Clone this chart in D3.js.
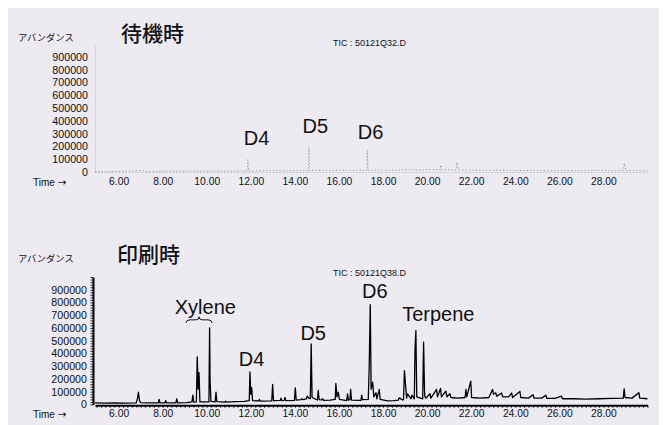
<!DOCTYPE html>
<html><head><meta charset="utf-8">
<script src="https://cdn.jsdelivr.net/npm/d3@7"></script>
<style>
html,body{margin:0;padding:0;background:#fff;}
svg{display:block;}
text{font-family:"Liberation Sans",Arial,sans-serif;fill:#111;}
.jp{font-family:"Noto Sans CJK JP",sans-serif;}
</style></head>
<body>
<svg id="c" width="665" height="425"></svg>
<script>
// ---------- data ----------
const xTickLabels = [6, 8, 10, 12, 14, 16, 18, 20, 22, 24, 26, 28];
const yTickLabels = [0, 100000, 200000, 300000, 400000, 500000, 600000, 700000, 800000, 900000];

// 待機時 (TIC: 50121Q32.D)
const topTime  = [4.93, 5.5, 6.0, 6.5, 7.0, 7.3, 8.0, 8.6, 9.0, 9.6, 10.0, 10.6, 11.0, 11.5, 11.84, 11.87, 11.9, 12.5, 13.0, 13.6, 14.0, 14.6, 14.64, 14.68, 15.2, 15.6, 16.1, 16.6, 17.0, 17.26, 17.29, 17.32, 17.8, 18.4, 19.0, 19.6, 20.2, 20.58, 20.62, 20.66, 21.0, 21.3, 21.36, 21.42, 22.0, 22.6, 23.2, 24.0, 24.8, 25.5, 26.2, 27.0, 27.8, 28.5, 28.9, 28.95, 29.0, 29.5, 30.0];
const topAbund = [3000, 5000, 4000, 8000, 12000, 5000, 6000, 9000, 5000, 10000, 6000, 9000, 7000, 10000, 6000, 100000, 7000, 9000, 12000, 8000, 11000, 10000, 195000, 11000, 14000, 10000, 16000, 11000, 15000, 12000, 170000, 12000, 16000, 12000, 18000, 15000, 20000, 16000, 55000, 16000, 18000, 15000, 75000, 14000, 16000, 12000, 14000, 10000, 12000, 9000, 11000, 10000, 12000, 10000, 12000, 70000, 11000, 10000, 9000];

// 印刷時 (TIC: 50121Q38.D)
const botTime  = [4.93, 5.4, 5.8, 6.3, 6.8, 6.86, 6.9, 6.95, 7.0, 7.4, 7.8, 7.84, 7.88, 8.1, 8.14, 8.18, 8.6, 8.64, 8.68, 9.1, 9.33, 9.37, 9.41, 9.53, 9.57, 9.61, 9.65, 9.69, 10.1, 10.13, 10.15, 10.19, 10.38, 10.42, 10.46, 10.82, 10.86, 10.9, 11.3, 11.7, 11.93, 11.96, 12.0, 12.04, 12.08, 12.36, 12.39, 12.43, 12.95, 12.99, 13.03, 13.34, 13.37, 13.41, 13.52, 13.55, 13.59, 13.98, 14.02, 14.06, 14.28, 14.31, 14.35, 14.52, 14.56, 14.62, 14.70, 14.74, 14.78, 15.02, 15.06, 15.1, 15.22, 15.26, 15.3, 15.6, 15.83, 15.86, 15.91, 15.97, 16.02, 16.35, 16.39, 16.43, 16.5, 16.53, 16.57, 17.0, 17.03, 17.07, 17.33, 17.37, 17.42, 17.46, 17.53, 17.58, 17.68, 17.72, 17.83, 17.87, 18.2, 18.5, 18.69, 18.73, 18.89, 18.93, 18.97, 19.07, 19.11, 19.27, 19.31, 19.42, 19.45, 19.49, 19.53, 19.8, 19.84, 19.88, 19.9, 19.95, 20.13, 20.17, 20.43, 20.47, 20.61, 20.65, 20.85, 20.9, 21.03, 21.08, 21.4, 21.72, 21.76, 21.8, 21.98, 22.02, 22.4, 22.8, 22.97, 23.01, 23.11, 23.16, 23.38, 23.43, 23.7, 23.83, 23.88, 24.21, 24.25, 24.6, 24.81, 24.85, 25.2, 25.39, 25.43, 25.8, 26.1, 26.14, 26.6, 27.2, 27.8, 28.4, 28.9, 28.94, 28.98, 29.3, 29.61, 29.65, 30.0];
const botAbund = [12000, 10000, 12000, 10000, 12000, 50000, 96000, 30000, 14000, 12000, 12000, 40000, 12000, 12000, 30000, 12000, 12000, 45000, 13000, 15000, 20000, 73000, 18000, 20000, 374000, 120000, 250000, 20000, 20000, 601000, 200000, 25000, 20000, 96000, 22000, 18000, 26000, 18000, 22000, 25000, 30000, 256000, 80000, 133000, 30000, 28000, 40000, 26000, 28000, 157000, 30000, 33000, 50000, 30000, 32000, 55000, 30000, 32000, 131000, 35000, 38000, 45000, 38000, 45000, 65000, 50000, 45000, 476000, 55000, 35000, 110000, 38000, 36000, 45000, 32000, 35000, 40000, 165000, 60000, 96000, 40000, 30000, 84000, 35000, 38000, 118000, 35000, 32000, 73000, 38000, 40000, 275000, 784000, 120000, 175000, 60000, 92000, 45000, 118000, 40000, 28000, 30000, 34000, 52000, 35000, 40000, 266000, 50000, 84000, 45000, 73000, 45000, 426000, 580000, 60000, 45000, 489000, 118000, 60000, 50000, 84000, 50000, 118000, 60000, 126000, 60000, 105000, 60000, 84000, 55000, 50000, 55000, 118000, 60000, 183000, 55000, 50000, 55000, 118000, 80000, 92000, 65000, 90000, 60000, 60000, 90000, 55000, 102000, 55000, 50000, 76000, 50000, 50000, 73000, 48000, 48000, 65000, 45000, 45000, 42000, 45000, 48000, 50000, 123000, 55000, 50000, 92000, 50000, 45000];

// ---------- layout ----------
const svg = d3.select("#c");
svg.append("rect").attr("x", 8).attr("y", 8).attr("width", 651).attr("height", 430).attr("fill", "#edeaf1");

const x = d3.scaleLinear().domain([4.93, 30.0]).range([95, 647.5]);
const yTop = d3.scaleLinear().domain([0, 1000000]).range([172, 44]);
const yBot = d3.scaleLinear().domain([0, 1000000]).range([404.5, 277]);

const minorX = d3.range(5.0, 30.01, 0.2);
const minorY = d3.range(0, 1000001, 20000);

function panel(y, time, abund, opts) {
  const g = svg.append("g");
  // series
  const line = d3.line().x((d, i) => x(time[i])).y(d => y(d));
  g.append("path").datum(abund).attr("d", line)
    .attr("fill", "none").attr("stroke", opts.lineColor)
    .attr("stroke-width", opts.lineWidth)
    .attr("stroke-dasharray", opts.lineDash || null)
    .attr("stroke-linejoin", "round");

  // x axis labels
  const ax = d3.axisBottom(x).tickValues(xTickLabels).tickFormat(d3.format(".2f")).tickSize(0).tickPadding(opts.xPad);
  const gx = g.append("g").attr("transform", `translate(0,${y(0)})`).call(ax);
  gx.select(".domain").remove();
  gx.selectAll("text").attr("font-size", 10.3).attr("fill", "#111")
    .attr("font-family", "Liberation Sans, Arial, sans-serif");

  // x minor ticks + axis line
  const axm = d3.axisBottom(x).tickValues(minorX).tickFormat("").tickSize(opts.xTick).tickSizeOuter(0);
  const gxm = g.append("g").attr("transform", `translate(0,${y(0) + opts.xOff})`).call(axm);
  gxm.select(".domain").attr("stroke", opts.axisColor).attr("stroke-width", opts.axisWidth)
     .attr("stroke-dasharray", opts.axisDash || null);
  gxm.selectAll(".tick line").attr("stroke", opts.axisColor).attr("stroke-width", 0.8);

  // y axis labels
  const ay = d3.axisLeft(y).tickValues(yTickLabels).tickFormat(d3.format("d")).tickSize(0).tickPadding(opts.yPad);
  const gy = g.append("g").attr("transform", `translate(${opts.yAxisX},0)`).call(ay);
  gy.select(".domain").remove();
  gy.selectAll("text").attr("font-size", 10.7).attr("fill", "#111")
    .attr("font-family", "Liberation Sans, Arial, sans-serif");

  // y minor ticks + axis line
  const aym = d3.axisLeft(y).tickValues(minorY).tickFormat("").tickSize(opts.yTick).tickSizeOuter(0);
  const gym = g.append("g").attr("transform", `translate(${opts.yAxisX},0)`).call(aym);
  gym.select(".domain").attr("stroke", opts.axisColor).attr("stroke-width", opts.axisWidth)
     .attr("stroke-dasharray", opts.axisDash || null);
  gym.selectAll(".tick line").attr("stroke", opts.axisColor).attr("stroke-width", 0.8)
     .attr("stroke-dasharray", opts.axisDash || null);

  // "Time →"
  const tt = g.append("text").attr("x", 33).attr("y", y(0) + opts.xPad + 1).attr("dy", "0.71em")
    .attr("font-size", 10);
  tt.append("tspan").text("Time ");
  tt.append("tspan").attr("font-family", "DejaVu Sans, sans-serif").attr("font-size", 10.5).text("→");
  // アバンダンス
  g.append("text").attr("class", "jp").attr("x", 18).attr("y", opts.abY)
    .attr("font-size", 9.3).text("アバンダンス");
  // title
  g.append("text").attr("class", "jp").attr("x", opts.titleX).attr("y", opts.titleY)
    .attr("font-size", 21).attr("font-weight", 500).text(opts.title);
  // TIC
  g.append("text").attr("x", 333).attr("y", opts.ticY).attr("font-size", 9).text(opts.tic);
  return g;
}

const gTop = panel(yTop, topTime, topAbund, {
  lineColor: "#8a8a8a", lineWidth: 0.9, lineDash: "1.2,2.2",
  axisColor: "#9a9a9a", axisWidth: 0.8, axisDash: "1,2",
  xPad: 6, xTick: 0, xOff: 0, yPad: 7, yTick: 0, yAxisX: 95,
  abY: 40.5, title: "待機時", titleX: 121, titleY: 40.5, tic: "TIC : 50121Q32.D", ticY: 46
});
const gBot = panel(yBot, botTime, botAbund, {
  lineColor: "#000", lineWidth: 1.3,
  axisColor: "#000", axisWidth: 2, 
  xPad: 5, xTick: 2.5, xOff: 0.8, yPad: 6, yTick: 2.5, yAxisX: 93,
  abY: 262, title: "印刷時", titleX: 117, titleY: 261.5, tic: "TIC : 50121Q38.D", ticY: 276
});

// ---------- peak annotations (anchored in data space) ----------
const topNames = ["D4", "D5", "D6"];
const topAnchorT = [11.68, 14.35, 16.85];
const topAnchorV = [211000, 307000, 255000];
const botNames = ["Xylene", "D4", "D5", "D6", "Terpene"];
const botAnchorT = [8.55, 11.45, 14.25, 17.05, 18.87];
const botAnchorV = [707000, 302000, 506000, 833000, 655000];

topNames.forEach((n, i) => gTop.append("text").attr("x", x(topAnchorT[i])).attr("y", yTop(topAnchorV[i]))
  .attr("font-size", 20).text(n));
botNames.forEach((n, i) => gBot.append("text").attr("x", x(botAnchorT[i])).attr("y", yBot(botAnchorV[i]))
  .attr("font-size", 20).text(n));

// xylene brace
const braceT = [9.06, 9.65, 10.24];
const braceV = [640000, 664000, 688000];
const bx0 = x(braceT[0]), bxm = x(braceT[1]), bx1 = x(braceT[2]);
const by0 = yBot(braceV[0]), bym = yBot(braceV[1]), byt = yBot(braceV[2]);
gBot.append("path")
  .attr("d", `M${bx0},${by0} Q${bx0},${bym} ${bx0 + 4},${bym} L${bxm - 3},${bym} Q${bxm},${bym} ${bxm},${byt} Q${bxm},${bym} ${bxm + 3},${bym} L${bx1 - 4},${bym} Q${bx1},${bym} ${bx1},${by0}`)
  .attr("fill", "none").attr("stroke", "#111").attr("stroke-width", 1);
</script>
</body></html>
